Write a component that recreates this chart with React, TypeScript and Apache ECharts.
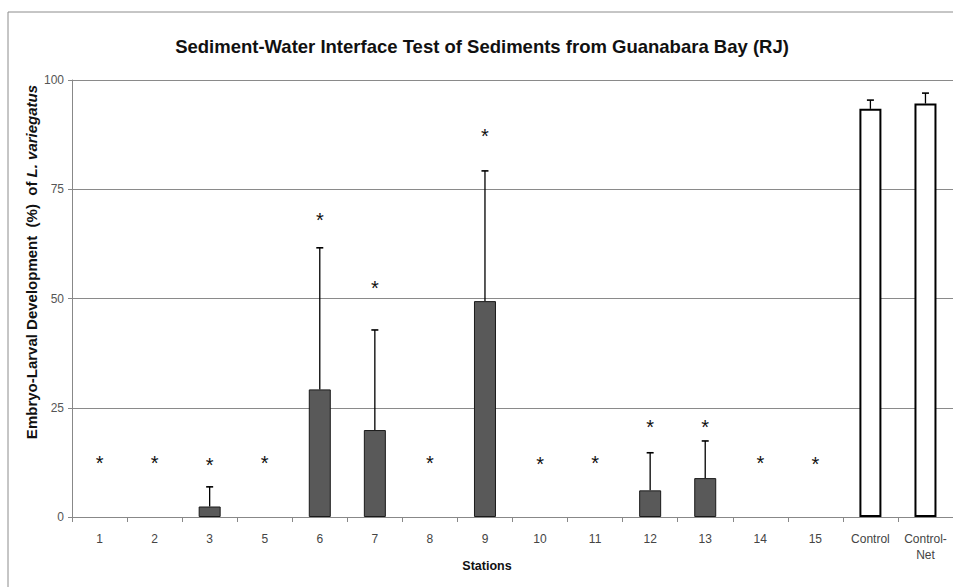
import React, { useEffect, useRef } from "react";
import * as echarts from "echarts";

const stations = ["1", "2", "3", "5", "6", "7", "8", "9", "10", "11", "12", "13", "14", "15", "Control", "Control-\nNet"];
const meanDev = [0, 0, 2.4, 0, 29.2, 19.9, 0, 49.4, 0, 0, 6.1, 8.9, 0, 0, 93.4, 94.6];
const sdDev = [null, null, 4.5, null, 32.4, 22.9, null, 29.8, null, null, 8.6, 8.5, null, null, 2.0, 2.4];
const asteriskPos = [13.5, 13.5, 13.0, 13.5, 69, 53.5, 13.4, 88.3, 13.2, 13.4, 21.7, 21.7, 13.4, 13.2, null, null];
const yTicks = [0, 25, 50, 75, 100];
const controlNames = ["Control", "Control-\nNet"];

const FONT = "Liberation Sans, Arial, sans-serif";

export default function App() {
  const ref = useRef<HTMLDivElement>(null);
  useEffect(() => {
    if (!ref.current) return;
    const chart = echarts.init(ref.current, null, { renderer: "svg" });
    const barData = meanDev.map((v, i) => {
      const isControl = controlNames.includes(stations[i]);
      return {
        value: v,
        itemStyle: isControl
          ? { color: "#ffffff", borderColor: "#000000", borderWidth: 2 }
          : { color: "#595959", borderColor: "#1a1a1a", borderWidth: v === 0 ? 0 : 1 },
      };
    });
    const errData = meanDev.map((v, i) => (sdDev[i] == null ? [i, v, v] : [i, v, v + (sdDev[i] as number)]));
    const astData = asteriskPos.map((v, i) => (v == null ? [i, null] : [i, v]));

    chart.setOption({
      animation: false,
      backgroundColor: "#ffffff",
      textStyle: { fontFamily: FONT },
      grid: { left: 72, top: 80, width: 883, height: 437 },
      title: {
        text: "Sediment-Water Interface Test of Sediments from Guanabara Bay (RJ)",
        left: 477,
        top: 32,
        textAlign: "center",
        textStyle: { fontFamily: FONT, fontSize: 18.5, fontWeight: "bold", color: "#111" },
      },
      graphic: [
        {
          type: "rect",
          shape: { x: 8, y: 12, width: 960, height: 600 },
          style: { fill: "none", stroke: "#8c8c8c", lineWidth: 1 },
          silent: true,
          z: -10,
        },
        {
          type: "text",
          x: 31,
          y: 262,
          rotation: Math.PI / 2,
          style: {
            text: "{b|Embryo-Larval Development  (%)  of }{i|L. variegatus}",
            rich: {
              b: { fontFamily: FONT, fontSize: 15, fontWeight: "bold", fill: "#111" },
              i: { fontFamily: FONT, fontSize: 15, fontWeight: "bold", fontStyle: "italic", fill: "#111" },
            },
            align: "center",
            verticalAlign: "middle",
          },
        },
        {
          type: "text",
          x: 487,
          y: 566,
          style: {
            text: "Stations",
            fontFamily: FONT,
            fontSize: 12.5,
            fontWeight: "bold",
            fill: "#111",
            align: "center",
            verticalAlign: "middle",
          },
        },
      ],
      xAxis: {
        type: "category",
        data: stations,
        boundaryGap: true,
        axisLine: { show: true, lineStyle: { color: "#888", width: 1 } },
        axisTick: { show: true, interval: 0, length: 5, lineStyle: { color: "#888" } },
        axisLabel: { interval: 0, fontSize: 12, color: "#444", margin: 14, lineHeight: 16, fontFamily: FONT },
      },
      yAxis: {
        type: "value",
        min: yTicks[0],
        max: yTicks[yTicks.length - 1],
        interval: 25,
        axisLine: { show: true, lineStyle: { color: "#888", width: 1 } },
        axisTick: { show: true, length: 4, lineStyle: { color: "#888" } },
        axisLabel: { fontSize: 12, color: "#555", margin: 8, fontFamily: FONT },
        splitLine: { show: true, lineStyle: { color: "#8a8a8a", width: 1 } },
      },
      series: [
        {
          type: "bar",
          data: barData,
          barWidth: 22,
          z: 2,
        },
        {
          type: "custom",
          data: errData,
          z: 3,
          renderItem: (params: any, api: any) => {
            const i = api.value(0);
            const lo = api.coord([i, api.value(1)]);
            const hi = api.coord([i, api.value(2)]);
            if (Math.abs(hi[1] - lo[1]) < 0.5) return { type: "group", children: [] };
            const cap = 3.5;
            return {
              type: "group",
              children: [
                { type: "line", shape: { x1: lo[0], y1: lo[1], x2: hi[0], y2: hi[1] }, style: { stroke: "#000", lineWidth: 1.3 } },
                { type: "line", shape: { x1: hi[0] - cap, y1: hi[1], x2: hi[0] + cap, y2: hi[1] }, style: { stroke: "#000", lineWidth: 1.6 } },
              ],
            };
          },
        },
        {
          type: "custom",
          data: astData,
          z: 4,
          renderItem: (params: any, api: any) => {
            const v = api.value(1);
            if (v == null || isNaN(v)) return { type: "group", children: [] };
            const p = api.coord([api.value(0), v]);
            return {
              type: "text",
              x: p[0],
              y: p[1] + 5,
              style: {
                text: "*",
                fontFamily: FONT,
                fontSize: 20,
                fill: "#111",
                align: "center",
                verticalAlign: "middle",
              },
            };
          },
        },
      ],
    });
    return () => chart.dispose();
  }, []);
  return <div ref={ref} style={{ position: "fixed", left: 0, top: 0, width: 953, height: 587 }} />;
}
